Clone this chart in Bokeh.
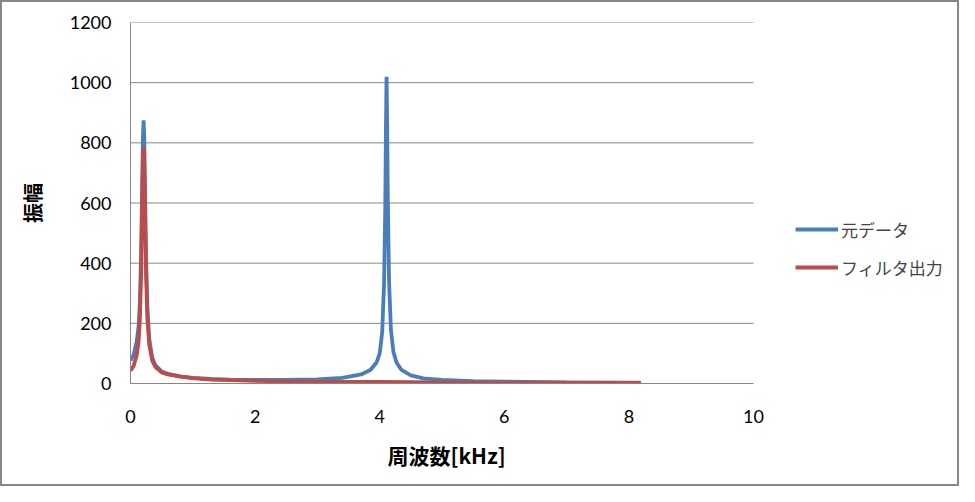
from bokeh.plotting import figure
from bokeh.models import Legend, LegendItem, FixedTicker, Range1d, Title
from bokeh.embed import file_html
from bokeh.resources import INLINE

# Original data (元データ)
freq_orig = [0, 0.05, 0.1, 0.13, 0.15, 0.17, 0.19, 0.2, 0.21, 0.22, 0.23, 0.25, 0.27, 0.3,
             0.35, 0.4, 0.5, 0.6, 0.8, 1.0, 1.3, 1.6, 2.0, 2.5, 3.0, 3.4, 3.7, 3.85, 3.95,
             4.0, 4.04, 4.07, 4.09, 4.1, 4.11, 4.12, 4.13, 4.15, 4.18, 4.22, 4.27, 4.35,
             4.5, 4.7, 5.0, 5.5, 6.0, 7.0, 8.19]
amp_orig = [76, 95, 140, 190, 270, 430, 700, 820, 875, 820, 690, 420, 260, 150,
            85, 60, 40, 32, 24, 19, 15, 13, 12, 12, 14, 19, 30, 45, 70,
            100, 170, 330, 600, 850, 1020, 860, 620, 340, 180, 105, 70, 45,
            27, 17, 12, 8, 6, 4, 3]

# Filter output (フィルタ出力)
freq_filt = [0, 0.05, 0.1, 0.13, 0.15, 0.17, 0.19, 0.2, 0.21, 0.22, 0.23, 0.25, 0.27, 0.3,
             0.35, 0.4, 0.5, 0.6, 0.8, 1.0, 1.3, 1.6, 2.0, 2.5, 3.0, 4.0, 5.0, 6.0, 7.0, 8.19]
amp_filt = [43, 58, 95, 140, 210, 360, 620, 740, 785, 740, 610, 360, 220, 130,
            75, 55, 37, 30, 23, 18, 13, 11, 9, 7, 6, 5, 4, 3, 3, 2]

x_ticks = [0, 2, 4, 6, 8, 10]
y_ticks = [0, 200, 400, 600, 800, 1000, 1200]
x_min, x_max = 0, 10
y_min, y_max = 0, 1200

BLUE = "#4A7EBB"
RED = "#BE4B48"
GRAY = "#868686"
FONT = "Lato"
CJK = "Noto Sans CJK JP"

W, H = 959, 486
LEFT, RIGHT, TOP, BOTTOM = 128, 8, 20, 105
PLOT_W = 623  # pixel width of the 0..10 kHz plotting area
frame_w = W - LEFT - RIGHT
x_end = x_max * frame_w / PLOT_W  # extra room on the right for the legend

p = figure(width=W, height=H, output_backend="svg", toolbar_location=None,
           x_range=Range1d(x_min, x_end), y_range=Range1d(y_min, y_max),
           min_border_left=LEFT, min_border_right=RIGHT, min_border_top=TOP,
           min_border_bottom=BOTTOM)
p.outline_line_color = None
p.background_fill_color = "white"
p.border_fill_color = "white"
p.styles = {"border": "2px solid #878787", "box-sizing": "border-box"}

# horizontal gridlines only across the 0..10 kHz area
p.xgrid.grid_line_color = None
p.ygrid.grid_line_color = None
p.segment(x0=[x_min] * len(y_ticks), x1=[x_max] * len(y_ticks), y0=y_ticks, y1=y_ticks,
          line_color=GRAY, line_width=1)

r1 = p.line(freq_orig, amp_orig, line_color=BLUE, line_width=3.8)
r2 = p.line(freq_filt, amp_filt, line_color=RED, line_width=3.8)

p.xaxis.ticker = FixedTicker(ticks=x_ticks)
p.yaxis.ticker = FixedTicker(ticks=y_ticks)
p.xaxis.bounds = (x_min, x_max)
for ax in (p.xaxis[0], p.yaxis[0]):
    ax.axis_line_color = GRAY
    ax.axis_line_width = 1
    ax.major_tick_line_color = None
    ax.minor_tick_line_color = None
    ax.major_tick_out = 0
    ax.major_tick_in = 0
    ax.minor_tick_out = 0
    ax.minor_tick_in = 0
    ax.major_label_text_font = FONT
    ax.major_label_text_font_size = "18px"
    ax.major_label_text_color = "black"
    ax.axis_label_text_font = CJK
    ax.axis_label_text_font_style = "bold"
    ax.axis_label_text_font_size = "20px"
    ax.axis_label_text_color = "black"

p.xaxis.major_label_standoff = 26
p.yaxis.major_label_standoff = 19
p.yaxis.axis_label = "振幅"
p.yaxis.axis_label_standoff = 20

# x-axis title placed under the middle of the 0..10 kHz area
x_title = Title(text="周波数[kHz]", align="left",
                offset=250, standoff=10, padding=7,
                text_font=CJK, text_font_style="bold", text_font_size="21px",
                text_color="black")
p.add_layout(x_title, "below")

legend = Legend(items=[LegendItem(label="元データ", renderers=[r1]),
                       LegendItem(label="フィルタ出力", renderers=[r2])],
                location=(665, 97), orientation="vertical")
legend.label_text_font = CJK
legend.label_text_font_size = "17px"
legend.glyph_width = 43
legend.glyph_height = 38
legend.label_height = 38
legend.label_standoff = 3
legend.spacing = 0
legend.padding = 0
legend.margin = 0
legend.border_line_color = None
legend.background_fill_alpha = 0
p.add_layout(legend, "center")

open("out.html", "w").write(file_html(p, INLINE))
